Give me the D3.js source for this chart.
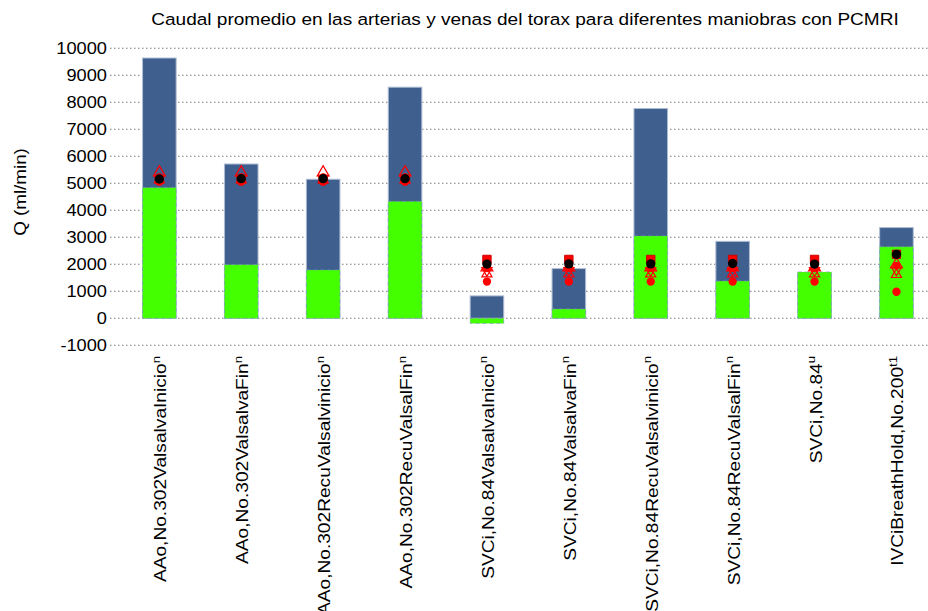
<!DOCTYPE html>
<html>
<head>
<meta charset="utf-8">
<script src="https://cdn.jsdelivr.net/npm/d3@7"></script>
<style>
  html, body { margin: 0; padding: 0; background: #fff; }
  svg text { font-family: "Liberation Sans", Arial, sans-serif; fill: #000; }
</style>
</head>
<body>
<svg id="chart" width="928" height="611"></svg>
<script>
// Flow measurements per vessel / manoeuvre (ml/min)
const categories = [
  "AAo,No.302ValsalvaInicio", "AAo,No.302ValsalvaFin", "AAo,No.302RecuValsalvinicio",
  "AAo,No.302RecuValsalFin", "SVCi,No.84ValsalvaInicio", "SVCi,No.84ValsalvaFin",
  "SVCi,No.84RecuValsalvinicio", "SVCi,No.84RecuValsalFin", "SVCi,No.84", "IVCiBreathHold,No.200"
];
const superscripts = ["n", "n", "n", "n", "n", "n", "n", "n", "u", "t1"];

const maxFlow = [9640, 5715, 5150, 8560, 830, 1840, 7770, 2850, 1700, 3360];
const minFlow = [4840, 1985, 1790, 4330, -190, 345, 3050, 1380, 1715, 2650];

const meanFlow  = [5160, 5170, 5170, 5170, 2010, 2015, 2015, 2030, 2010, 2370];
const refSquare = [5150, 5150, 5150, 5150, 2180, 2180, 2180, 2180, 2180, 2370];
const refTriUp  = [5400, 5400, 5400, 5400, 1880, 1880, 1880, 1880, 1880, 1990];
const refDot    = [5230, 5230, 5230, 5230, 1850, 1850, 1850, 1850, 1850, 1950];
const refTriDn  = [5180, 5180, 5180, 5180, 1770, 1770, 1770, 1770, 1770, 1790];
const refTriLow = [5120, 5120, 5120, 5120, 1640, 1640, 1640, 1640, 1640, 1620];
const refLow    = [5060, 5060, 5060, 5060, 1360, 1360, 1360, 1360, 1360, 985];

const yTicks = [-1000, 0, 1000, 2000, 3000, 4000, 5000, 6000, 7000, 8000, 9000, 10000];

const titleText = "Caudal promedio en las arterias y venas del torax para diferentes maniobras con PCMRI";
const yLabel = "Q (ml/min)";

const svg = d3.select("#chart");
const stretch = 1.14;

const x = d3.scaleBand().domain(categories).range([118.4, 937.4]).padding(0);
const y = d3.scaleLinear().domain([-1000, 10000]).range([345.3, 48.3]);
const bw = x.bandwidth();
const barW = bw * 0.41;
const cx = c => x(c) + bw / 2;

// dotted horizontal grid
svg.append("g").selectAll("line").data(yTicks).join("line")
  .attr("x1", 110).attr("x2", 928)
  .attr("y1", d => y(d)).attr("y2", d => y(d))
  .attr("stroke", "#7a7a7a").attr("stroke-width", 1.1)
  .attr("stroke-dasharray", "1.5,2.5");

// y tick labels
svg.append("g").selectAll("text").data(yTicks).join("text")
  .attr("transform", d => `translate(107,${y(d)}) scale(${stretch},1)`)
  .attr("text-anchor", "end").attr("dy", "0.36em")
  .style("font-size", "16px")
  .text(d => d);

// maximum flow bars
svg.append("g").selectAll("rect").data(categories).join("rect")
  .attr("x", c => cx(c) - barW / 2)
  .attr("width", barW)
  .attr("y", (c, i) => y(Math.max(0, maxFlow[i])))
  .attr("height", (c, i) => Math.abs(y(maxFlow[i]) - y(0)))
  .attr("fill", "#3f5f8e")
  .attr("stroke", "#aebcd3").attr("stroke-width", 1);

// minimum flow bars
svg.append("g").selectAll("rect").data(categories).join("rect")
  .attr("x", c => cx(c) - barW / 2)
  .attr("width", barW)
  .attr("y", (c, i) => y(Math.max(0, minFlow[i])))
  .attr("height", (c, i) => Math.abs(y(minFlow[i]) - y(0)))
  .attr("fill", "#44ff00")
  .attr("stroke", "#7f8fd6").attr("stroke-opacity", 0.6)
  .attr("stroke-width", 1).attr("stroke-dasharray", "4,3");

// reference markers
const markers = svg.append("g");
function drawSymbols(values, type, size, opts) {
  markers.append("g").selectAll("path").data(categories).join("path")
    .attr("transform", (c, i) => `translate(${cx(c)},${y(values[i])})${opts.rotate ? " rotate(180)" : ""}`)
    .attr("d", d3.symbol().type(type).size(size)())
    .attr("fill", opts.fill || "none")
    .attr("stroke", opts.stroke || "none")
    .attr("stroke-width", opts.sw || 1);
}
drawSymbols(refSquare, d3.symbolSquare, 70, { fill: "#ff0000", stroke: "#cc0000" });
drawSymbols(refTriUp, d3.symbolTriangle, 60, { stroke: "#ff0000", sw: 1.3 });
drawSymbols(refDot, d3.symbolCircle, 45, { fill: "#ff0000" });
drawSymbols(refTriDn, d3.symbolTriangle, 45, { stroke: "#ff0000", sw: 1.2, rotate: true });
drawSymbols(refTriLow, d3.symbolTriangle, 45, { stroke: "#ff0000", sw: 1.2 });
drawSymbols(refLow, d3.symbolCircle, 55, { fill: "#ff0000" });
drawSymbols(meanFlow, d3.symbolCircle, 68, { fill: "#000000" });

// category labels (rotated), with superscript notes
const xl = svg.append("g").selectAll("text").data(categories).join("text")
  .attr("transform", c => `translate(${cx(c) + 7},356) rotate(-90) scale(${stretch},1)`)
  .attr("text-anchor", "end")
  .style("font-size", "16.8px");
xl.append("tspan").text(c => c);
xl.append("tspan").attr("baseline-shift", "super").style("font-size", "11.5px")
  .text((c, i) => superscripts[i]);

// title
svg.append("text")
  .attr("transform", `translate(525,25) scale(${stretch},1)`)
  .attr("text-anchor", "middle")
  .style("font-size", "16.7px")
  .text(titleText);

// y axis label
svg.append("text")
  .attr("transform", `translate(26,192) rotate(-90) scale(${stretch},1)`)
  .attr("text-anchor", "middle")
  .style("font-size", "16.5px")
  .text(yLabel);
</script>
</body>
</html>
